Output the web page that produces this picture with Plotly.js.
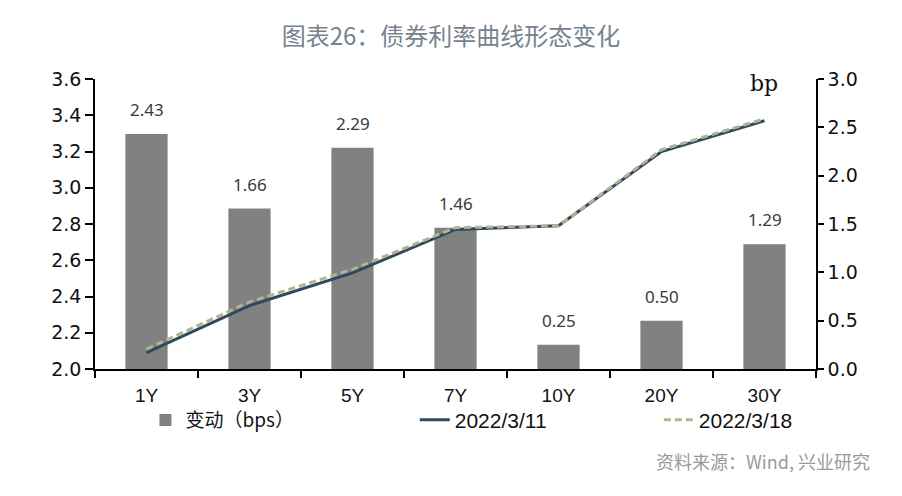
<!DOCTYPE html>
<html>
<head>
<meta charset="utf-8">
<script src="https://cdn.plot.ly/plotly-3.0.1.min.js"></script>
<style>
  html, body { margin:0; padding:0; background:#fff; }
  #chart { width:902px; height:496px; }
</style>
</head>
<body>
<div id="chart"></div>
<script>
// ── Data ──────────────────────────────────────────────────────────────────────
const tenors   = ['1Y','3Y','5Y','7Y','10Y','20Y','30Y'];
const chgBps   = [2.43, 1.66, 2.29, 1.46, 0.25, 0.50, 1.29];
const yld0311  = [2.09, 2.35, 2.53, 2.77, 2.79, 3.20, 3.37];
const yld0318  = [2.11, 2.37, 2.55, 2.78, 2.79, 3.21, 3.38];

const CJK  = '"Noto Sans CJK SC", "Noto Sans", sans-serif';
const AX   = { showgrid:false, zeroline:false, showline:true, linecolor:'#000', linewidth:1.5,
               ticks:'outside', tickcolor:'#000', tickwidth:1.5 };

// ── Traces ────────────────────────────────────────────────────────────────────
const bars = {
  type:'bar', x:tenors, y:chgBps, yaxis:'y', name:'变动（bps）',
  marker:{ color:'#818181' }, legend:'legend', showlegend:true, hoverinfo:'skip',
};
const line11 = {
  type:'scatter', mode:'lines', x:tenors, y:yld0311, yaxis:'y2', name:'2022/3/11',
  line:{ color:'#2e4a5e', width:3 }, legend:'legend2', showlegend:true,
};
const line18 = {
  type:'scatter', mode:'lines', x:tenors, y:yld0318, yaxis:'y2', name:'2022/3/18',
  line:{ color:'#b3b38f', width:3, dash:'7px,4px' }, legend:'legend3', showlegend:true,
};

// bar value labels
const barLabels = tenors.map((t, i) => ({
  x:t, y:chgBps[i], xref:'x', yref:'y', text:chgBps[i].toFixed(2),
  yanchor:'bottom', yshift:11, showarrow:false,
  font:{ family:'"Noto Sans", sans-serif', size:17, color:'#3a3a3a' },
}));

const legendBase = { orientation:'h', yanchor:'middle', xanchor:'left', y:-0.176,
  bgcolor:'rgba(0,0,0,0)', font:{ family:'"Liberation Sans", sans-serif', size:21, color:'#111' } };

Plotly.newPlot('chart', [bars, line11, line18], {
  width:902, height:496,
  paper_bgcolor:'#fff', plot_bgcolor:'#fff',
  margin:{ t:79, r:86, b:127, l:95 },
  bargap:0.59,
  showlegend:true,
  title:{ text:'图表26：债券利率曲线形态变化', x:0.5, xanchor:'center', y:0.927, yanchor:'middle',
          font:{ family:CJK, size:24, color:'#76828e' } },
  xaxis:{ ...AX, type:'category', tickson:'boundaries', ticklen:7, ticklabelstandoff:8,
          tickfont:{ family:'"Liberation Sans Narrow", "Liberation Sans", sans-serif', size:19, color:'#111' } },
  yaxis:{ ...AX, side:'right', range:[0, 3.0], dtick:0.5, ticklen:6, tickformat:'.1f',
          tickfont:{ family:'"DejaVu Sans", sans-serif', size:19, color:'#111' } },
  yaxis2:{ ...AX, side:'left', overlaying:'y', range:[2.0, 3.6], dtick:0.2, ticklen:8, tickformat:'.1f',
           tickfont:{ family:'"DejaVu Sans", sans-serif', size:19, color:'#111' } },
  legend: { ...legendBase, x:0.07, font:{ family:CJK, size:19, color:'#111' } },
  legend2:{ ...legendBase, x:0.4435 },
  legend3:{ ...legendBase, x:0.782 },
  annotations:[
    ...barLabels,
    { text:'bp', xref:'paper', yref:'paper', x:0.95, y:0.986, yanchor:'middle', showarrow:false,
      font:{ family:'"DejaVu Serif", serif', size:22, color:'#111' } },
    { text:'资料来源：Wind, 兴业研究', xref:'paper', yref:'paper', x:1.077, y:-0.317,
      xanchor:'right', yanchor:'middle', showarrow:false,
      font:{ family:CJK, size:18, color:'#9a9a9a' } },
  ],
}, { displayModeBar:false });
</script>
</body>
</html>
